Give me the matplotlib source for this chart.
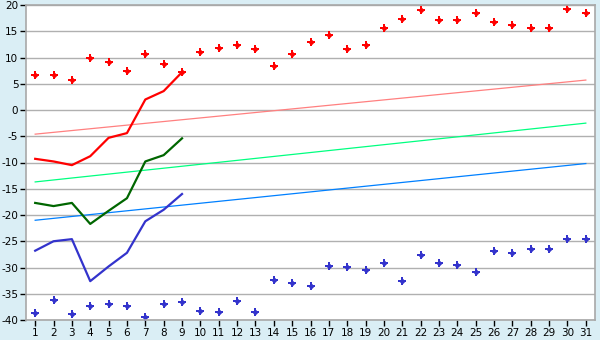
import matplotlib
matplotlib.use('Agg')
import matplotlib.pyplot as plt
import numpy as np

plt.rcParams['axes.unicode_minus'] = False

days = list(range(1, 32))

# scatter: daily max (red) and daily min (blue)
max_pts = [6.6, 6.6, 5.8, 10.0, 9.1, 7.4, 10.7, 8.7, 7.2, 11.0,
           11.8, 12.4, 11.6, 8.4, 10.7, 12.9, 14.3, 11.6, 12.4, 15.6,
           17.3, 19.0, 17.1, 17.1, 18.5, 16.8, 16.2, 15.6, 15.6, 19.2, 18.5]
min_pts = [-38.7, -36.2, -38.9, -37.3, -37.0, -37.3, -39.4, -37.0, -36.6, -38.3,
           -38.5, -36.4, -38.5, -32.4, -33.0, -33.5, -29.7, -29.9, -30.5, -29.1,
           -32.6, -27.6, -29.1, -29.5, -30.9, -26.9, -27.2, -26.5, -26.5, -24.6, -24.6]

# measured lines, first 9 days
line_days = list(range(1, 10))
red_line = [-9.3, -9.8, -10.5, -8.8, -5.3, -4.4, 2.0, 3.6, 7.2]
green_line = [-17.7, -18.3, -17.7, -21.7, -19.2, -16.8, -9.8, -8.6, -5.4]
blue_line = [-26.8, -25.0, -24.6, -32.6, -29.8, -27.2, -21.2, -19.0, -16.0]

# normal lines (start, end)
trend_days = [1, 31]
pink_trend = [-4.6, 5.7]
lime_trend = [-13.7, -2.5]
sky_trend = [-21.0, -10.2]

fig = plt.figure(figsize=(6, 3.4), dpi=100, facecolor='#daeef5')
ax = fig.add_axes([26/600, 20/340, 569/600, 315/340])
ax.set_facecolor('white')

ax.plot(trend_days, pink_trend, color='#ff8080', lw=0.9)
ax.plot(trend_days, lime_trend, color='#00ff80', lw=0.9)
ax.plot(trend_days, sky_trend, color='#0080ff', lw=0.9)

ax.plot(line_days, red_line, color='#ff0000', lw=1.6)
ax.plot(line_days, green_line, color='#006600', lw=1.6)
ax.plot(line_days, blue_line, color='#3333cc', lw=1.6)

# plus + small diamond gives the chunky point shape
for pts, col in [(max_pts, '#ff0000'), (min_pts, '#3333cc')]:
    ax.plot(days, pts, ls='none', marker='P', ms=5.2, color=col, mew=0)
    ax.plot(days, pts, ls='none', marker='D', ms=3.2, color=col, mew=0)

ax.set_xlim(0.5, 31.5)
ax.set_ylim(-40, 20)
ax.set_xticks(days)
ax.set_yticks(np.arange(-40, 21, 5))
ax.yaxis.grid(True, color='#b0b0b0', lw=1)
ax.set_axisbelow(True)
for s in ax.spines.values():
    s.set_color('#a8a8a8')
    s.set_linewidth(1.2)
ax.tick_params(axis='both', colors='black', labelsize=7.5, length=4, width=1, pad=1.5)

fig.savefig('out.png', dpi=100, facecolor=fig.get_facecolor())
